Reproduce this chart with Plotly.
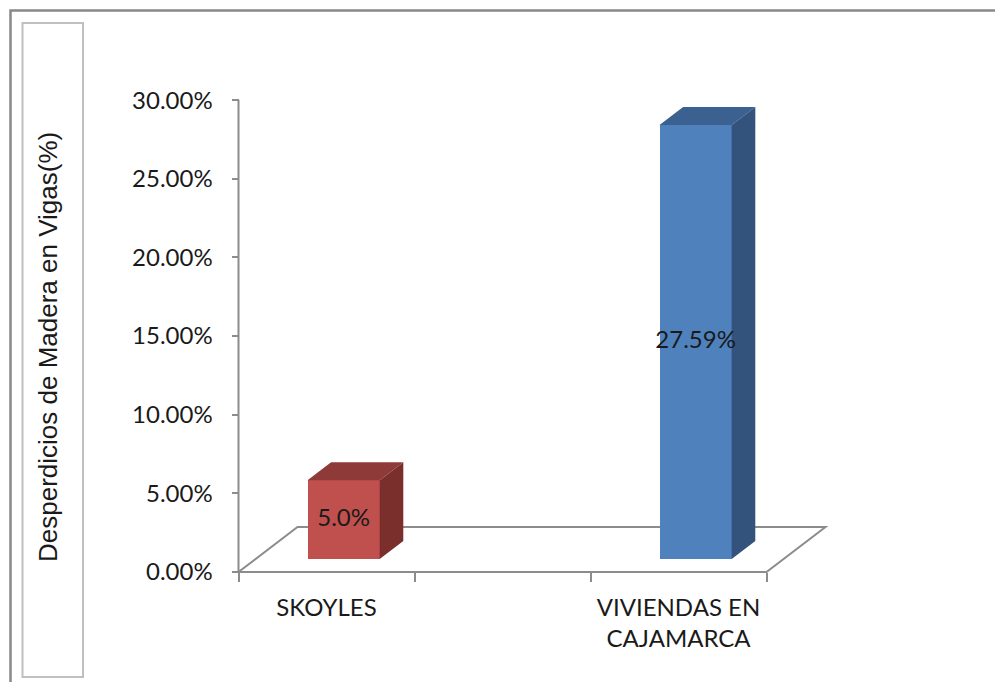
import plotly.graph_objects as go

# ---- data -------------------------------------------------------------
categories = ["SKOYLES", "", "VIVIENDAS EN<br>CAJAMARCA"]
values = [5.0, None, 27.59]
value_labels = ["5.0%", "", "27.59%"]
front_colors = ["#C0504D", None, "#4F81BD"]
top_colors = ["#8E3A38", None, "#3B6191"]
side_colors = ["#7A2F2D", None, "#33527C"]
y_ticks = [0, 5, 10, 15, 20, 25, 30]
y_tick_labels = ["0.00%", "5.00%", "10.00%", "15.00%", "20.00%", "25.00%", "30.00%"]
y_title = "Desperdicios de Madera en Vigas(%)"

# ---- page geometry (pixels) ------------------------------------------
W, H = 995, 682
ORIGIN_X, ORIGIN_Y = 238.5, 572.0     # front-left corner of the floor
PX_PER_CAT = 176.0
PX_PER_PCT = 15.73
DEPTH_PX = (59.0, -45.0)              # floor depth vector
BAR_T0, BAR_T1 = 0.29, 0.69           # bar front/back as fraction of depth
BAR_W = 0.41                          # bar width in category units

GRAY = "#8C8C8C"
TEXT = "#1A1A1A"
TICK_FONT = dict(family="Lato, Carlito, Calibri, sans-serif", size=24, color=TEXT)

# data-space ranges so the plot area fills the whole page
x_lo = -0.5 - ORIGIN_X / PX_PER_CAT
x_hi = -0.5 + (W - ORIGIN_X) / PX_PER_CAT
y_lo = -(H - ORIGIN_Y) / PX_PER_PCT
y_hi = ORIGIN_Y / PX_PER_PCT

DX = DEPTH_PX[0] / PX_PER_CAT
DY = -DEPTH_PX[1] / PX_PER_PCT
n = len(categories)
x_first, x_last = -0.5, n - 0.5

fig = go.Figure()

# front faces of the bars
for i, v in enumerate(values):
    if v is None:
        continue
    fig.add_trace(go.Bar(
        x=[i + BAR_T0 * DX], y=[v], base=[BAR_T0 * DY], width=BAR_W,
        marker=dict(color=front_colors[i], line=dict(width=0)),
        hoverinfo="skip", showlegend=False,
    ))

# top and side faces
ddx = (BAR_T1 - BAR_T0) * DX
ddy = (BAR_T1 - BAR_T0) * DY
for i, v in enumerate(values):
    if v is None:
        continue
    xl = i - BAR_W / 2 + BAR_T0 * DX
    xr = i + BAR_W / 2 + BAR_T0 * DX
    yb = BAR_T0 * DY
    yt = yb + v
    fig.add_trace(go.Scatter(
        x=[xl, xr, xr + ddx, xl + ddx, xl], y=[yt, yt, yt + ddy, yt + ddy, yt],
        mode="lines", fill="toself", fillcolor=top_colors[i],
        line=dict(width=0, color=top_colors[i]), hoverinfo="skip", showlegend=False,
    ))
    fig.add_trace(go.Scatter(
        x=[xr, xr, xr + ddx, xr + ddx, xr], y=[yb, yt, yt + ddy, yb + ddy, yb],
        mode="lines", fill="toself", fillcolor=side_colors[i],
        line=dict(width=0, color=side_colors[i]), hoverinfo="skip", showlegend=False,
    ))

# value labels centred on the front faces
lx, ly, lt = [], [], []
for i, v in enumerate(values):
    if v is None:
        continue
    lx.append(i + BAR_T0 * DX)
    ly.append(BAR_T0 * DY + v / 2)
    lt.append(value_labels[i])
fig.add_trace(go.Scatter(
    x=lx, y=ly, text=lt, mode="text", textposition="middle center",
    textfont=TICK_FONT, hoverinfo="skip", showlegend=False,
))

shapes = [
    # floor
    dict(type="path", xref="x", yref="y", layer="below",
         path=(f"M {x_first},0 L {x_last},0 L {x_last + DX},{DY} "
               f"L {x_first + DX},{DY} Z"),
         fillcolor="white", line=dict(color=GRAY, width=2)),
    # value axis line
    dict(type="line", xref="x", yref="y", layer="below",
         x0=x_first, x1=x_first, y0=0, y1=y_ticks[-1],
         line=dict(color=GRAY, width=2)),
    # outer chart border
    dict(type="rect", xref="paper", yref="paper",
         x0=10.5 / W, x1=1.05, y0=-0.05, y1=1 - 10.5 / H,
         line=dict(color="#888888", width=2.5), fillcolor="rgba(0,0,0,0)"),
    # axis-title box
    dict(type="rect", xref="paper", yref="paper",
         x0=22.5 / W, x1=83 / W, y0=1 - 677 / H, y1=1 - 23 / H,
         line=dict(color="#C0C0C0", width=2), fillcolor="rgba(0,0,0,0)"),
]

annotations = [
    dict(text=y_title, xref="paper", yref="paper", x=48 / W, y=1 - 347 / H,
         showarrow=False, textangle=-90, xanchor="center", yanchor="middle",
         font=dict(family="Liberation Sans, Arial, sans-serif", size=26, color=TEXT)),
]

fig.update_layout(
    width=W, height=H, autosize=False,
    margin=dict(l=0, r=0, t=0, b=0, pad=0),
    paper_bgcolor="white", plot_bgcolor="white",
    shapes=shapes, annotations=annotations,
    bargap=0, showlegend=False,
    xaxis=dict(
        domain=[0, 1], range=[x_lo, x_hi], anchor="free",
        position=1 - ORIGIN_Y / H,
        tickmode="array", tickvals=list(range(n)), ticktext=categories,
        ticks="", showline=False, showgrid=False, zeroline=False,
        tickfont=TICK_FONT, ticklabelstandoff=19,
        minor=dict(tickmode="array", tickvals=[x_first + k for k in range(n + 1)],
                   ticks="outside", ticklen=9, tickwidth=2, tickcolor=GRAY,
                   showgrid=False),
        fixedrange=True,
    ),
    yaxis=dict(
        domain=[0, 1], range=[y_lo, y_hi], anchor="free",
        position=ORIGIN_X / W,
        tickmode="array", tickvals=y_ticks, ticktext=y_tick_labels,
        ticks="outside", ticklen=7, tickwidth=2, tickcolor=GRAY,
        showline=False, showgrid=False, zeroline=False,
        tickfont=TICK_FONT, ticklabelstandoff=14,
        fixedrange=True,
    ),
)

fig.write_html("out.html")
